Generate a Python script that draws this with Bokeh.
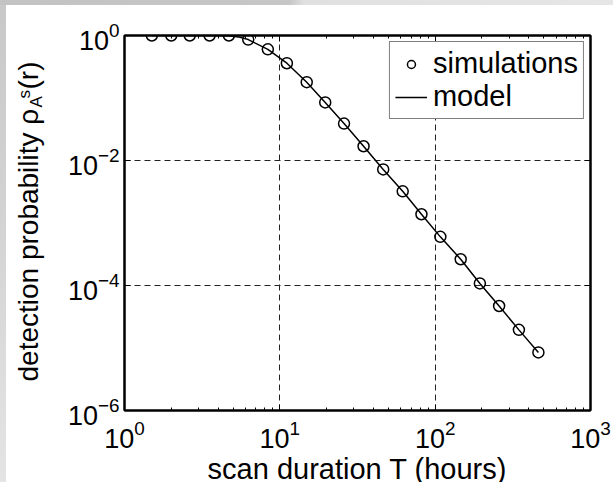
import math
from bokeh.plotting import figure
from bokeh.models import (FixedTicker, LogAxis, Legend, LegendItem,
                          CustomJSTickFormatter)
from bokeh.layouts import column, row
from bokeh.core.properties import value
from bokeh.embed import file_html
from bokeh.resources import INLINE

# ---- data ----
sim_T = [1.5, 2.0, 2.63, 3.53, 4.7, 6.26, 8.37, 11.1, 14.9, 19.6, 25.9, 34.6,
         46.3, 61.8, 81.6, 108, 146, 194, 258, 346, 462]
sim_p = [1.0, 1.0, 1.0, 1.0, 1.0, 0.86, 0.60, 0.36, 0.179, 0.085, 0.039, 0.0169,
         0.0072, 0.00321, 0.00138, 0.0006, 0.000263, 0.000108, 4.7e-5, 1.95e-5, 8.5e-6]
model_T = [1.5, 2.0, 2.63, 3.53, 4.7, 5.4, 6.26, 8.37, 11.1, 14.9, 19.6, 25.9, 34.6,
           46.3, 61.8, 81.6, 108, 146, 194, 258, 346, 462]
model_p = [1.0, 1.0, 1.0, 1.0, 0.99, 0.95, 0.86, 0.60, 0.36, 0.179, 0.085, 0.039, 0.0169,
           0.0072, 0.00321, 0.00138, 0.0006, 0.000263, 0.000108, 4.7e-5, 1.95e-5, 8.5e-6]
x_ticks = [1, 10, 100, 1000]
x_minor = [2, 3, 4, 5, 6, 7, 8, 9, 20, 30, 40, 50, 60, 70, 80, 90,
           200, 300, 400, 500, 600, 700, 800, 900]
y_ticks = [1e-6, 1e-4, 1e-2, 1]
x_grid = [10, 100]
y_grid = [1e-4, 1e-2]

FONT = "Liberation Sans"

# page layout (pixels)
GL, GT = 6, 5            # grey strips left / top
LW = 50                  # width of the y-label strip
FL, FR, FT, FB = 124, 590, 35, 410   # frame on the page
BH = 28                  # height of the x-label strip
MAIN_W = 613 - GL - LW
MAIN_H = 482 - GT - BH

p = figure(width=MAIN_W, height=MAIN_H, x_axis_type="log", y_axis_type="log",
           x_range=(1, 1000), y_range=(1e-6, 1), title_location=None,
           output_backend="svg", toolbar_location=None,
           min_border_left=FL - GL - LW, min_border_right=613 - FR,
           min_border_top=FT - GT, min_border_bottom=(482 - BH) - FB,
           background_fill_color="white", border_fill_color="white")
p.frame_align = False

p.outline_line_color = "black"
p.outline_line_width = 2

bottom_ax = p.below[0]
left_ax = p.left[0]
bottom_ax.ticker = FixedTicker(ticks=x_ticks, minor_ticks=x_minor)
left_ax.ticker = FixedTicker(ticks=y_ticks)

top_ax = LogAxis(ticker=FixedTicker(ticks=x_ticks, minor_ticks=x_minor),
                 formatter=CustomJSTickFormatter(code="return ''"))
right_ax = LogAxis(ticker=FixedTicker(ticks=y_ticks),
                   formatter=CustomJSTickFormatter(code="return ''"))
p.add_layout(top_ax, "above")
p.add_layout(right_ax, "right")

for ax in [bottom_ax, left_ax, top_ax, right_ax]:
    ax.axis_line_color = "black"
    ax.axis_line_width = 2
    ax.major_tick_in = 6
    ax.major_tick_out = 0
    ax.minor_tick_in = 3
    ax.minor_tick_out = 0
    ax.major_tick_line_color = "black"
    ax.minor_tick_line_color = "black"
    ax.major_tick_line_width = 1
    ax.minor_tick_line_width = 1
    ax.major_label_text_font = FONT
    ax.major_label_text_color = "black"
    ax.major_label_text_font_size = "27px"

top_ax.major_label_text_font_size = "1px"
right_ax.major_label_text_font_size = "1px"
top_ax.major_label_standoff = 0
right_ax.major_label_standoff = 0
bottom_ax.major_label_standoff = 9
left_ax.major_label_standoff = 5

p.xgrid.ticker = FixedTicker(ticks=x_grid)
p.ygrid.ticker = FixedTicker(ticks=y_grid)
for g in [p.xgrid[0], p.ygrid[0]]:
    g.grid_line_color = "#222222"
    g.grid_line_width = 1
    g.grid_line_dash = "6 4"

r_line = p.line(model_T, model_p, line_color="black", line_width=1.5)
r_sim = p.scatter(sim_T, sim_p, marker="circle", size=11, fill_color=None,
                  line_color="black", line_width=1.5)

legend = Legend(items=[LegendItem(label="simulations", renderers=[r_sim]),
                       LegendItem(label="model", renderers=[r_line])],
                location="top_right", margin=6, padding=5, spacing=0,
                glyph_width=32, glyph_height=20, label_standoff=6, label_height=20,
                label_text_font=FONT, label_text_font_size="29px",
                label_text_color="black", border_line_color="black",
                border_line_width=1.5, background_fill_color="white",
                background_fill_alpha=1.0)
p.add_layout(legend)


def strip(w, h):
    f = figure(width=w, height=h, x_range=(0, w), y_range=(0, h),
               title_location=None,
               output_backend="svg", toolbar_location=None, min_border=0,
               x_axis_location=None, y_axis_location=None,
               background_fill_color="white", border_fill_color="white")
    f.frame_align = False
    f.outline_line_color = None
    f.grid.visible = False
    return f


# y-axis label strip (coordinates: pixels inside the strip, y upwards)
LH = 482 - GT
lf = strip(LW, LH)


def ly(page_y):
    return 482 - page_y


rot = dict(angle=math.pi / 2, text_align="left", text_baseline="middle",
           text_font=value(FONT), text_color="black")
lf.text(x=[28 - GL], y=[ly(381)], text=["detection probability ρ"],
        text_font_size="28px", **rot)
lf.text(x=[36 - GL], y=[ly(107)], text=["A"], text_font_size="17px", **rot)
lf.text(x=[24 - GL], y=[ly(98)], text=["s"], text_font_size="17px", **rot)
lf.text(x=[28 - GL], y=[ly(89)], text=["(r)"], text_font_size="28px", **rot)

# x-axis label strip, below the main plot
bf = strip(MAIN_W, BH)
bf.text(x=[357 - GL - LW], y=[482 - 468], text=["scan duration T (hours)"],
        text_align="center", text_baseline="middle",
        text_font=value(FONT), text_font_size="29px", text_color="black")

right_col = column(p, bf)
top_row = row(lf, right_col)
top_row.margin = (GT, 0, 0, GL)

bg = ("linear-gradient(100deg, #c3c3c3 0px, #c6c6c6 285px, #e0e0e0 300px, #e6e6e6 613px) "
      "left top / 100% 5px no-repeat, "
      "linear-gradient(to bottom, #c8c8c8 0px, #d4d4d4 240px, #e4e4e4 482px) "
      "left top / 6px 100% no-repeat, white")
layout = column(top_row, styles={"background": bg})

open("out.html", "w").write(file_html(layout, INLINE))
